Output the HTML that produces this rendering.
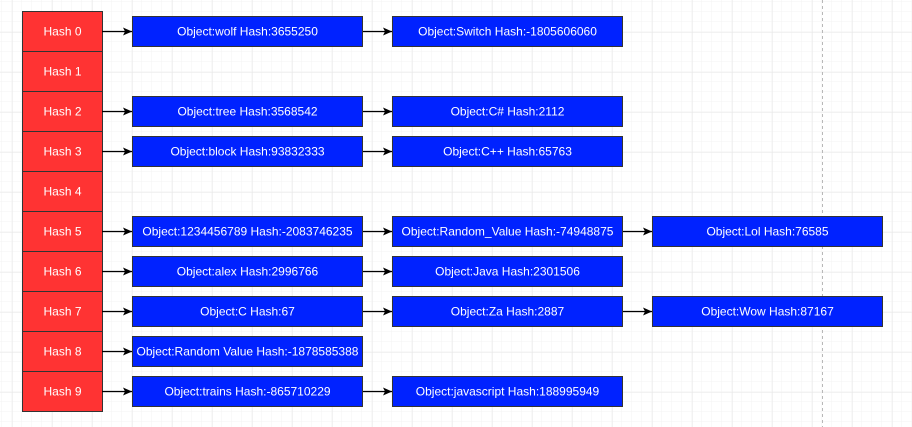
<!DOCTYPE html>
<html><head><meta charset="utf-8"><style>
html,body{margin:0;padding:0;background:#fff;}
svg{display:block;}
text{font-family:"Liberation Sans",Arial,sans-serif;font-size:12px;fill:#fff;text-anchor:middle;dominant-baseline:central;}
</style></head><body>
<svg width="912" height="427" xmlns="http://www.w3.org/2000/svg">
<defs>
<pattern id="minor" width="10" height="10" patternUnits="userSpaceOnUse" x="2" y="2">
<path d="M10 0V10M0 10H10" fill="none" stroke="#f3f3f3" stroke-width="1"/>
</pattern>
<pattern id="major" width="40" height="40" patternUnits="userSpaceOnUse" x="12.5" y="32.5">
<path d="M0 0V40M0 0H40" fill="none" stroke="#e6e6e6" stroke-width="1"/>
</pattern>
<marker id="ar" markerWidth="10" markerHeight="10" refX="9" refY="5" orient="auto" markerUnits="userSpaceOnUse">
<path d="M0,1 L9,5 L0,9 L2,5 Z" fill="#000"/>
</marker>
</defs>
<rect width="912" height="427" fill="url(#minor)"/>
<rect width="912" height="427" fill="url(#major)"/>
<line x1="822.5" y1="0" x2="822.5" y2="427" stroke="#b8b8b8" stroke-dasharray="3,3"/>
<g stroke="#333" stroke-width="1" fill="#ff3333">
<rect x="22.5" y="11.5" width="80" height="40"/>
<rect x="22.5" y="51.5" width="80" height="40"/>
<rect x="22.5" y="91.5" width="80" height="40"/>
<rect x="22.5" y="131.5" width="80" height="40"/>
<rect x="22.5" y="171.5" width="80" height="40"/>
<rect x="22.5" y="211.5" width="80" height="40"/>
<rect x="22.5" y="251.5" width="80" height="40"/>
<rect x="22.5" y="291.5" width="80" height="40"/>
<rect x="22.5" y="331.5" width="80" height="40"/>
<rect x="22.5" y="371.5" width="80" height="40"/>
</g>
<g>
<text x="62.5" y="31.5">Hash 0</text>
<text x="62.5" y="71.5">Hash 1</text>
<text x="62.5" y="111.5">Hash 2</text>
<text x="62.5" y="151.5">Hash 3</text>
<text x="62.5" y="191.5">Hash 4</text>
<text x="62.5" y="231.5">Hash 5</text>
<text x="62.5" y="271.5">Hash 6</text>
<text x="62.5" y="311.5">Hash 7</text>
<text x="62.5" y="351.5">Hash 8</text>
<text x="62.5" y="391.5">Hash 9</text>
</g>
<g stroke="#000" stroke-width="1.2" marker-end="url(#ar)">
<line x1="102" y1="31.5" x2="132" y2="31.5"/><line x1="362" y1="31.5" x2="392" y2="31.5"/>
<line x1="102" y1="111.5" x2="132" y2="111.5"/><line x1="362" y1="111.5" x2="392" y2="111.5"/>
<line x1="102" y1="151.5" x2="132" y2="151.5"/><line x1="362" y1="151.5" x2="392" y2="151.5"/>
<line x1="102" y1="231.5" x2="132" y2="231.5"/><line x1="362" y1="231.5" x2="392" y2="231.5"/><line x1="622" y1="231.5" x2="652" y2="231.5"/>
<line x1="102" y1="271.5" x2="132" y2="271.5"/><line x1="362" y1="271.5" x2="392" y2="271.5"/>
<line x1="102" y1="311.5" x2="132" y2="311.5"/><line x1="362" y1="311.5" x2="392" y2="311.5"/><line x1="622" y1="311.5" x2="652" y2="311.5"/>
<line x1="102" y1="351.5" x2="132" y2="351.5"/>
<line x1="102" y1="391.5" x2="132" y2="391.5"/><line x1="362" y1="391.5" x2="392" y2="391.5"/>
</g>
<g stroke="#333" stroke-width="1" fill="#0022ff">
<rect x="132.5" y="16.5" width="230" height="30"/><rect x="392.5" y="16.5" width="230" height="30"/>
<rect x="132.5" y="96.5" width="230" height="30"/><rect x="392.5" y="96.5" width="230" height="30"/>
<rect x="132.5" y="136.5" width="230" height="30"/><rect x="392.5" y="136.5" width="230" height="30"/>
<rect x="132.5" y="216.5" width="230" height="30"/><rect x="392.5" y="216.5" width="230" height="30"/><rect x="652.5" y="216.5" width="230" height="30"/>
<rect x="132.5" y="256.5" width="230" height="30"/><rect x="392.5" y="256.5" width="230" height="30"/>
<rect x="132.5" y="296.5" width="230" height="30"/><rect x="392.5" y="296.5" width="230" height="30"/><rect x="652.5" y="296.5" width="230" height="30"/>
<rect x="132.5" y="336.5" width="230" height="30"/>
<rect x="132.5" y="376.5" width="230" height="30"/><rect x="392.5" y="376.5" width="230" height="30"/>
</g>
<g>
<text x="247.5" y="31.5">Object:wolf Hash:3655250</text><text x="507.5" y="31.5">Object:Switch Hash:-1805606060</text>
<text x="247.5" y="111.5">Object:tree Hash:3568542</text><text x="507.5" y="111.5">Object:C# Hash:2112</text>
<text x="247.5" y="151.5">Object:block Hash:93832333</text><text x="507.5" y="151.5">Object:C++ Hash:65763</text>
<text x="247.5" y="231.5">Object:1234456789 Hash:-2083746235</text><text x="507.5" y="231.5">Object:Random_Value Hash:-74948875</text><text x="767.5" y="231.5">Object:Lol Hash:76585</text>
<text x="247.5" y="271.5">Object:alex Hash:2996766</text><text x="507.5" y="271.5">Object:Java Hash:2301506</text>
<text x="247.5" y="311.5">Object:C Hash:67</text><text x="507.5" y="311.5">Object:Za Hash:2887</text><text x="767.5" y="311.5">Object:Wow Hash:87167</text>
<text x="247.5" y="351.5">Object:Random Value Hash:-1878585388</text>
<text x="247.5" y="391.5">Object:trains Hash:-865710229</text><text x="507.5" y="391.5">Object:javascript Hash:188995949</text>
</g>
</svg>
</body></html>
